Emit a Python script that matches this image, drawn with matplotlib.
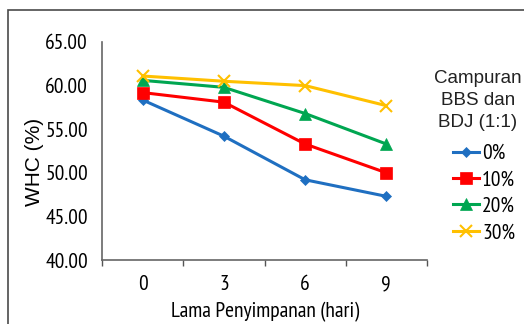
import matplotlib
matplotlib.use("Agg")
import matplotlib.pyplot as plt
from matplotlib.patches import Rectangle

# data
days = ["0", "3", "6", "9"]
series_names = ["0%", "10%", "20%", "30%"]
whc_0 = [58.35, 54.2, 49.2, 47.3]
whc_10 = [59.2, 58.1, 53.3, 50.0]
whc_20 = [60.6, 59.8, 56.8, 53.3]
whc_30 = [61.1, 60.5, 60.0, 57.7]

colors = ["#1F6FC1", "#FF0000", "#00A651", "#FFC000"]
markers = ["D", "s", "^", "x"]
msizes = [5.5, 8, 8, 8]

narrow = ["PT Sans Narrow", "Archivo Narrow", "Liberation Sans", "DejaVu Sans"]
regular = ["Liberation Sans", "DejaVu Sans"]
fs = 15.5

W, H = 524, 324
fig = plt.figure(figsize=(W / 100, H / 100), dpi=100)

# outer chart frame (only left and top edges are visible)
fig.patches.append(Rectangle((8 / W, -0.1), 1.2, (H - 10.5) / H + 0.1,
                             transform=fig.transFigure, fill=False,
                             edgecolor="#4a4a4a", linewidth=1.2))

ax = fig.add_axes([102 / W, (H - 260) / H, 325 / W, 218 / H])

x = [i + 0.5 for i in range(len(days))]
for vals, name, c, m, ms in zip([whc_0, whc_10, whc_20, whc_30], series_names,
                                colors, markers, msizes):
    ax.plot(x, vals, color=c, marker=m, markersize=ms, linewidth=2.2,
            markeredgewidth=1.5 if m == "x" else 0.5, label=name)

ax.set_xlim(0, len(days))
ax.set_ylim(40, 65)
ax.set_yticks([40, 45, 50, 55, 60, 65])
ax.set_yticklabels(["%.2f" % v for v in [40, 45, 50, 55, 60, 65]],
                   family=narrow, fontsize=fs)
ax.set_xticks(x)
ax.set_xticklabels(days, family=narrow, fontsize=fs)
ax.set_xticks(range(len(days) + 1), minor=True)
ax.tick_params(axis="x", which="major", length=0, pad=11)
ax.tick_params(axis="x", which="minor", length=4, width=1, color="#555555",
               direction="out")
ax.tick_params(axis="y", length=0, pad=10)

for s in ["top", "right"]:
    ax.spines[s].set_visible(False)
for s in ["left", "bottom"]:
    ax.spines[s].set_color("#666666")
    ax.spines[s].set_linewidth(1.2)

fig.text(34 / W, 1 - 162 / H, "WHC (%)", rotation=90, ha="center",
         va="center", family=regular, fontsize=15)
fig.text(265 / W, 1 - 312 / H, "Lama Penyimpanan (hari)", ha="center",
         va="center", family=narrow, fontsize=fs)

# legend title
fig.text(478 / W, 1 - 100.5 / H, "Campuran\nBBS dan\nBDJ (1:1)", ha="center",
         va="center", family=regular, fontsize=13.5, linespacing=1.35,
         color="#222222")

leg = ax.legend(loc="upper left", bbox_to_anchor=(453 / W, 1 - 144 / H),
                bbox_transform=fig.transFigure, frameon=False,
                prop={"family": narrow, "size": fs}, handlelength=1.2,
                handletextpad=0.15, labelspacing=0.34, borderpad=0,
                borderaxespad=0)

fig.savefig("out.png", dpi=100)
